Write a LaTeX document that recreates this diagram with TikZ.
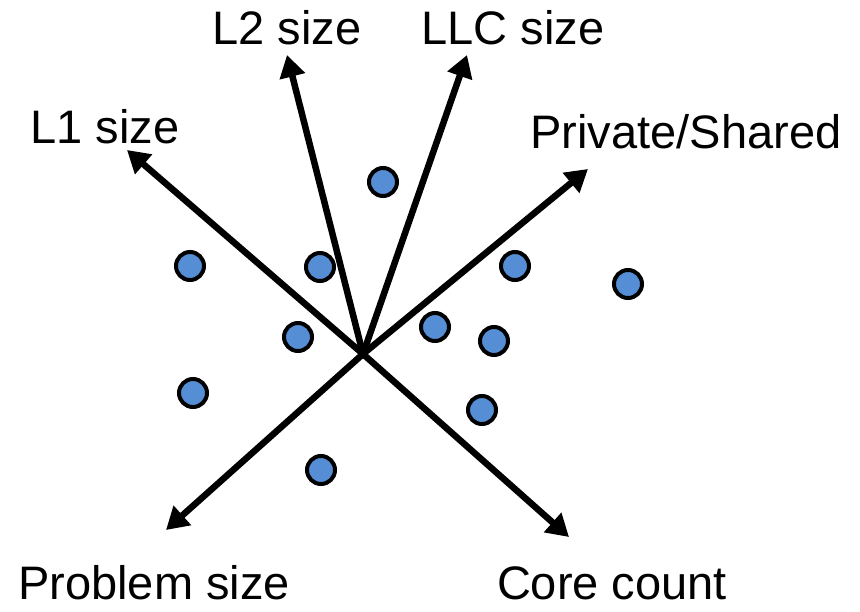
\documentclass[tikz,border=0pt]{standalone}
\usepackage{fontspec}
\setmainfont{Liberation Sans}
\usetikzlibrary{arrows.meta}
\definecolor{dotblue}{RGB}{85,142,213}
\begin{document}
\begin{tikzpicture}[x=1pt,y=-1pt,
  axis/.style={line width=6.5pt,-{Triangle[length=22pt,width=25pt]}},
  label/.style={anchor=base,inner sep=0pt,font=\fontsize{47}{56}\selectfont},
  dot/.style={circle,draw=black,line width=4pt,fill=dotblue,minimum size=28pt,inner sep=0pt}]
  \useasboundingbox (0,0) rectangle (860,611);

  % origin of all axes
  \coordinate (O) at (363,354);

  % arrow tips
  \coordinate (tL1)  at (127,150);
  \coordinate (tL2)  at (287,55);
  \coordinate (tLLC) at (467,55);
  \coordinate (tPS)  at (588,169);
  \coordinate (tPb)  at (166,530);
  \coordinate (tCC)  at (569,537);

  % axis labels
  \node[label] (lL1)  at (105,143) {L1 size};
  \node[label] (lL2)  at (287,44)  {L2 size};
  \node[label] (lLLC) at (513,44)  {LLC size};
  \node[label] (lPS)  at (686,148) {Private/Shared};
  \node[label] (lPb)  at (154,599) {Problem size};
  \node[label] (lCC)  at (612,599) {Core count};

  % axes
  \draw[axis] (O) -- (tL1);
  \draw[axis] (O) -- (tL2);
  \draw[axis] (O) -- (tLLC);
  \draw[axis] (O) -- (tPS);
  \draw[axis] (O) -- (tPb);
  \draw[axis] (O) -- (tCC);

  % data points
  \node[dot] (p1)  at (383,182) {};
  \node[dot] (p2)  at (190,266) {};
  \node[dot] (p3)  at (320,267) {};
  \node[dot] (p4)  at (515,266) {};
  \node[dot] (p5)  at (628,284) {};
  \node[dot] (p6)  at (298,337) {};
  \node[dot] (p7)  at (435,327) {};
  \node[dot] (p8)  at (494,341) {};
  \node[dot] (p9)  at (193,393) {};
  \node[dot] (p10) at (482,410) {};
  \node[dot] (p11) at (321,470) {};
\end{tikzpicture}
\end{document}
